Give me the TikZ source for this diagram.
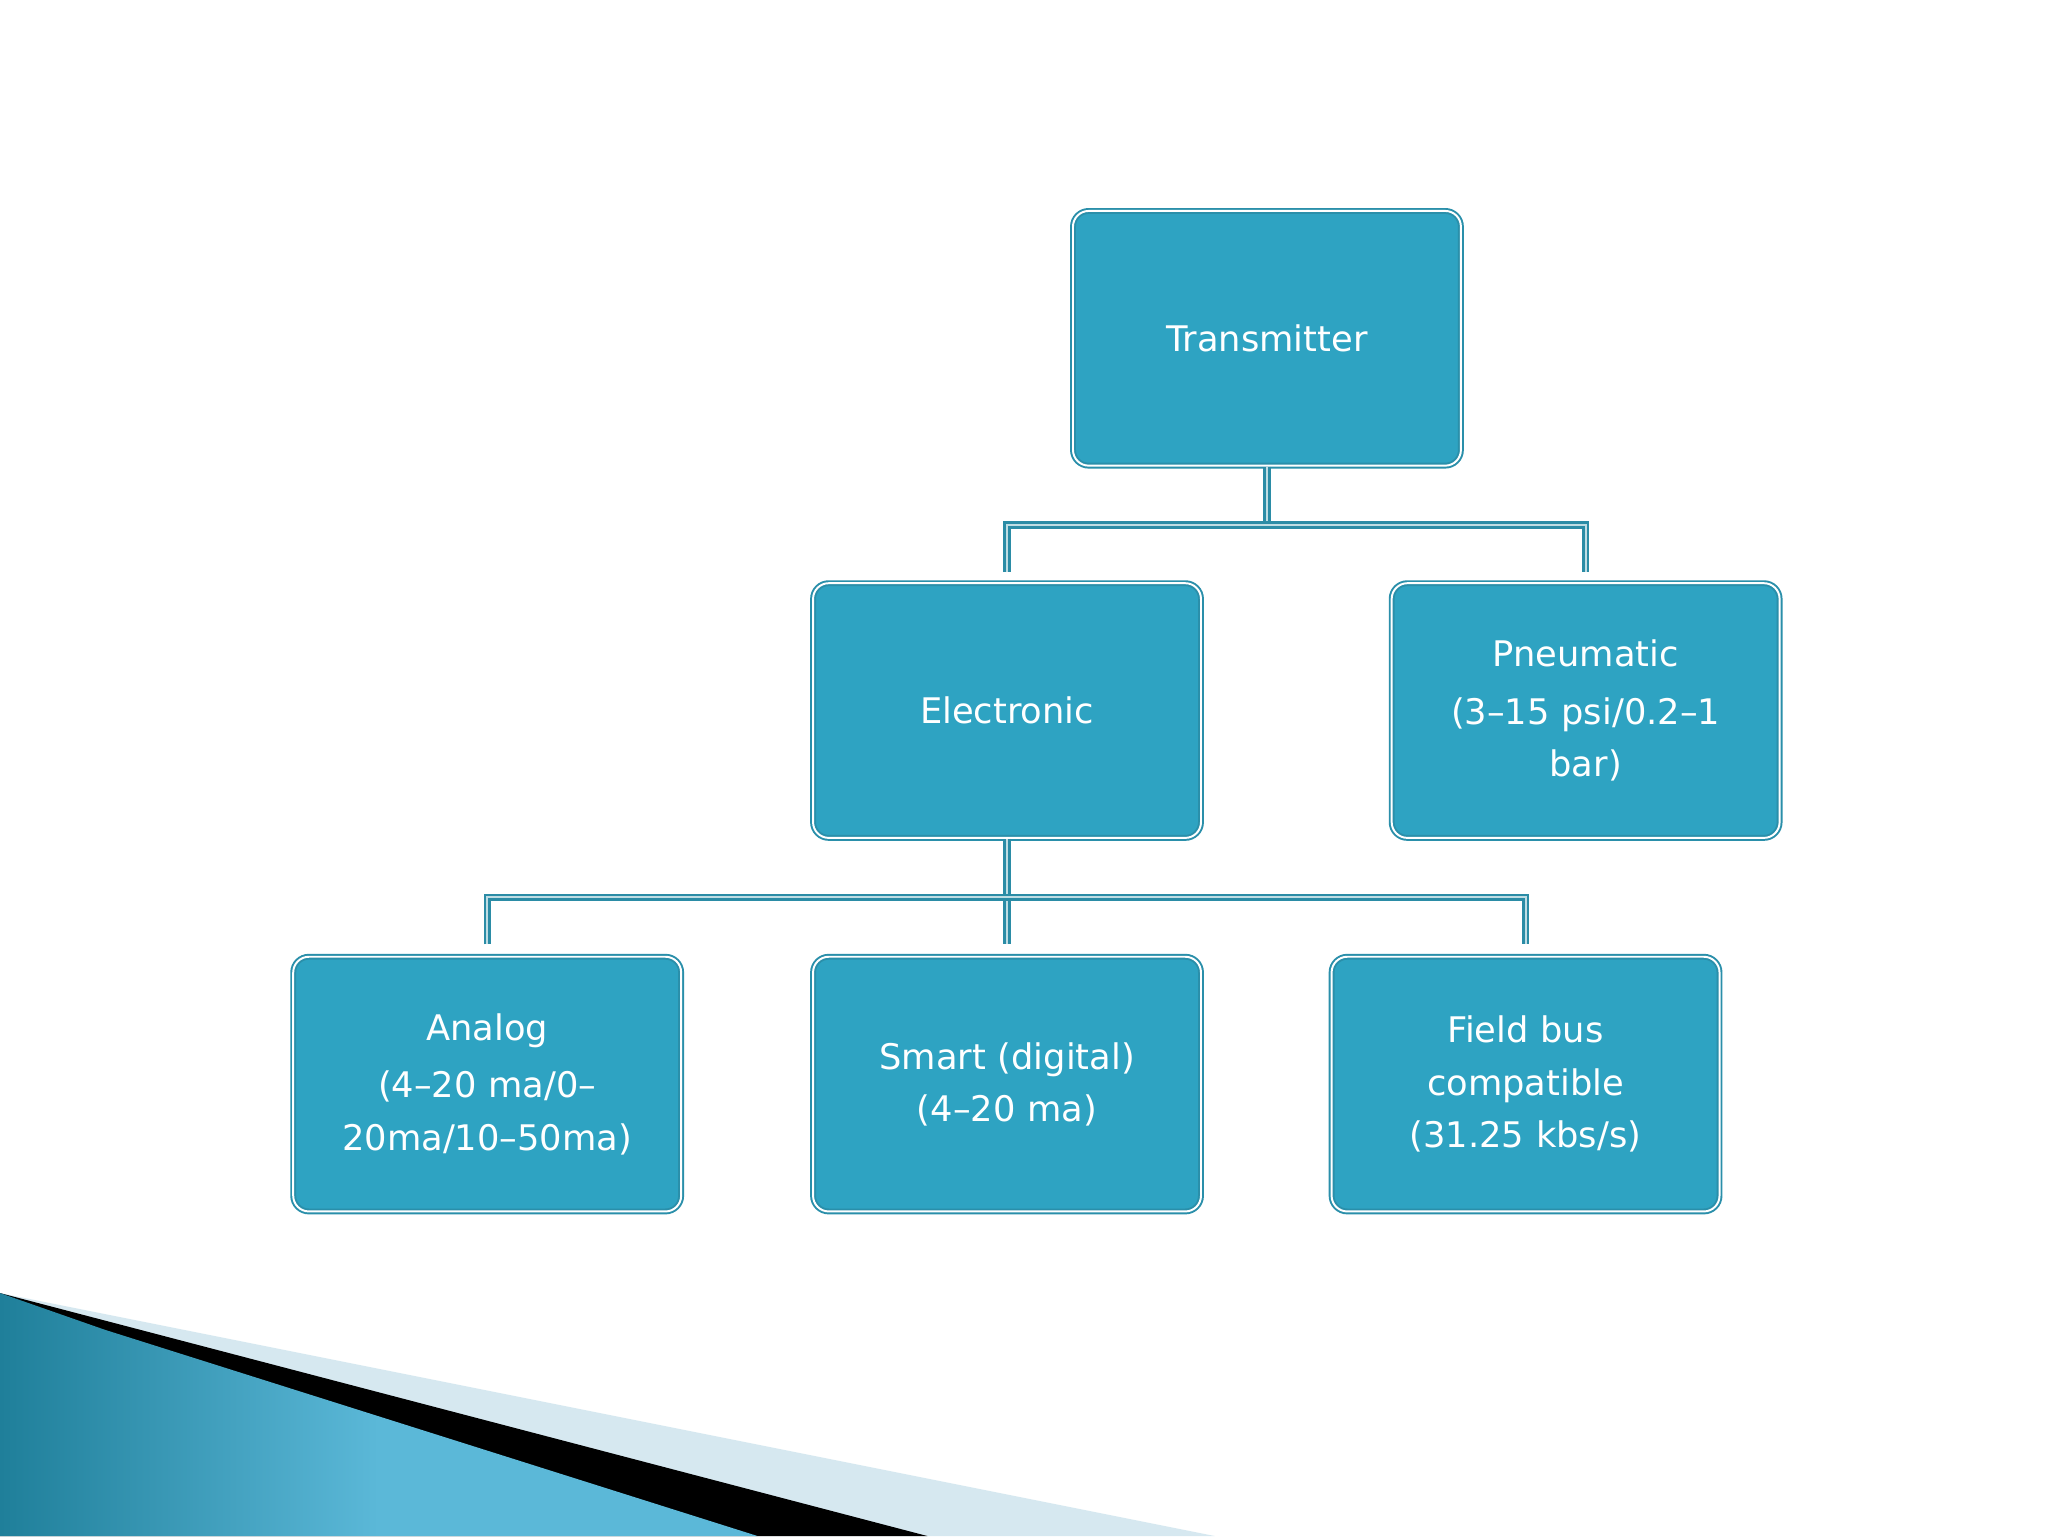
\documentclass[tikz,border=0pt]{standalone}
\usepackage{fontspec}
\setmainfont{DejaVu Sans}
\definecolor{boxfill}{HTML}{2EA3C2}
\definecolor{boxedge}{HTML}{2A8FAA}
\definecolor{linec}{HTML}{2B8CA6}
\definecolor{lightc}{HTML}{D6E8F0}
\definecolor{tealA}{HTML}{1F7F9A}
\definecolor{tealB}{HTML}{5BB8D8}
\tikzset{
  box/.style={draw=boxedge, line width=1.5pt, double=white, double distance=1.5pt, fill=boxfill, rounded corners=12pt,
    minimum width=297pt, minimum height=195pt, text=white, align=center, font=\fontsize{27}{40}\selectfont, text width=280pt, inner sep=0pt},
  conn/.style={draw=linec, line width=2pt, double=white!70!linec, double distance=1.5pt}
}
\begin{document}
\begin{tikzpicture}[x=1pt,y=-1pt]
\useasboundingbox (0,0) rectangle (1568,1176);
\fill[white] (0,0) rectangle (1568,1176);
% decoration
\fill[lightc] (0,990) -- (930,1176) -- (0,1176) -- cycle;
\fill[black] (0,990) -- (710,1176) -- (0,1176) -- cycle;
\shade[left color=tealA, right color=tealB, middle color=tealB] (0,990) -- (80,1018) -- (580,1176) -- (0,1176) -- cycle;
% nodes
\node[box] (t) at (970,259) {Transmitter};
\node[box] (e) at (771,544) {Electronic};
\node[box] (p) at (1214,544) {Pneumatic\\[4pt](3--15 psi/0.2--1\\bar)};
\node[box] (a) at (373,830) {Analog\\[4pt](4--20 ma/0--\\20ma/10--50ma)};
\node[box] (s) at (771,830) {Smart (digital)\\(4--20 ma)};
\node[box] (f) at (1168,830) {Field bus\\compatible\\(31.25 kbs/s)};
% connectors
\coordinate (t1) at (970,402);
\draw[conn] (t.south) -- (t1);
\draw[conn] (e.north |- 0,438) |- (t1) -| (p.north |- 0,438);
\coordinate (e1) at (771,687);
\draw[conn] (e.south) -- (s.north |- 0,723);
\draw[conn] (a.north |- 0,723) |- (e1) -| (f.north |- 0,723);
\end{tikzpicture}
\end{document}
